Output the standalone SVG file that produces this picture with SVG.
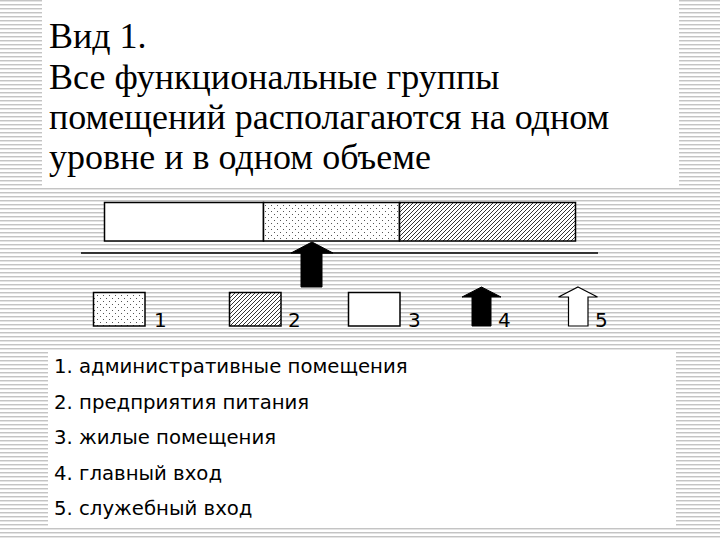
<svg xmlns="http://www.w3.org/2000/svg" width="720" height="540" viewBox="0 0 720 540">
  <defs>
    <pattern id="stripes" x="0" y="0" width="8" height="4" patternUnits="userSpaceOnUse">
      <rect x="0" y="0" width="8" height="4" fill="#ffffff"/>
      <rect x="0" y="0" width="8" height="1" fill="#c4c4c4"/>
      <rect x="0" y="1" width="8" height="1" fill="#e4e4e4"/>
    </pattern>
    <pattern id="dots" x="0" y="0" width="6" height="6" patternUnits="userSpaceOnUse">
      <rect x="0" y="0" width="6" height="6" fill="#ffffff"/>
      <rect x="1" y="1" width="1" height="1" fill="#555555"/>
      <rect x="4" y="4" width="1" height="1" fill="#555555"/>
    </pattern>
    <pattern id="hatch" x="0" y="0" width="4" height="4" patternUnits="userSpaceOnUse">
      <rect x="0" y="0" width="4" height="4" fill="#ffffff"/>
      <path d="M-1,1 L1,-1 M0,4 L4,0 M3,5 L5,3" stroke="#000000" stroke-width="0.8"/>
    </pattern>
  </defs>
  <style>
    .title { font-family: "Liberation Serif", "Times New Roman", serif; font-size: 36px; fill: #000000; }
    .lbl { font-family: "DejaVu Sans", Verdana, sans-serif; font-size: 20px; fill: #000000; }
    .item { font-family: "DejaVu Sans", Verdana, sans-serif; font-size: 19.7px; fill: #000000; }
    .box { stroke: #000000; stroke-width: 1.5; }
    .line { stroke: #000000; stroke-width: 1.5; fill: none; }
  </style>

  <!-- background -->
  <rect x="0" y="0" width="720" height="540" fill="url(#stripes)"/>
  <rect x="42" y="0" width="637" height="186" fill="#ffffff"/>
  <rect x="48" y="350" width="628" height="178" fill="#ffffff"/>

  <!-- title -->
  <g id="title">
    <text class="title" x="49" y="48">Вид 1.</text>
    <text class="title" x="49" y="89">Все функциональные группы</text>
    <text class="title" x="49" y="129">помещений располагаются на одном</text>
    <text class="title" x="49" y="169">уровне и в одном объеме</text>
  </g>

  <!-- building volume -->
  <g id="zone-residential">
    <rect class="box" x="104.5" y="202.5" width="159" height="38.5" fill="#ffffff"/>
  </g>
  <g id="zone-admin">
    <rect class="box" x="263.5" y="202.5" width="136" height="38.5" fill="url(#dots)"/>
  </g>
  <g id="zone-food">
    <rect class="box" x="399.5" y="202.5" width="176" height="38.5" fill="url(#hatch)"/>
  </g>

  <g id="connectors">
    <line class="line" x1="81" y1="253" x2="598" y2="253"/>
    <polygon id="main-entrance" points="312,242 333,253 322,253 322,287 301,287 301,253 291,253" fill="#000000" stroke="#000000" stroke-width="1"/>
  </g>

  <!-- legend row -->
  <g id="legend-1">
    <rect class="box" x="93.5" y="292.5" width="51.5" height="33.5" fill="url(#dots)"/>
    <text class="lbl" x="154" y="327">1</text>
  </g>
  <g id="legend-2">
    <rect class="box" x="229.5" y="292.5" width="51.5" height="33.5" fill="url(#hatch)"/>
    <text class="lbl" x="288" y="327">2</text>
  </g>
  <g id="legend-3">
    <rect class="box" x="348.5" y="292.5" width="51.5" height="33.5" fill="#ffffff"/>
    <text class="lbl" x="408" y="327">3</text>
  </g>
  <g id="legend-4">
    <polygon points="481.5,287 501,297 491,297 491,326 472,326 472,297 462,297" fill="#000000" stroke="#000000" stroke-width="1"/>
    <text class="lbl" x="498" y="327">4</text>
  </g>
  <g id="legend-5">
    <polygon points="578,287 597.5,297 588,297 588,326 568.5,326 568.5,297 558.5,297" fill="#ffffff" stroke="#000000" stroke-width="1.2"/>
    <text class="lbl" x="595" y="327">5</text>
  </g>

  <!-- legend list -->
  <g id="legend-list">
    <text class="item" x="54" y="373">1. административные помещения</text>
    <text class="item" x="54" y="409">2. предприятия питания</text>
    <text class="item" x="54" y="444">3. жилые помещения</text>
    <text class="item" x="54" y="480">4. главный вход</text>
    <text class="item" x="54" y="515">5. служебный вход</text>
  </g>
</svg>
